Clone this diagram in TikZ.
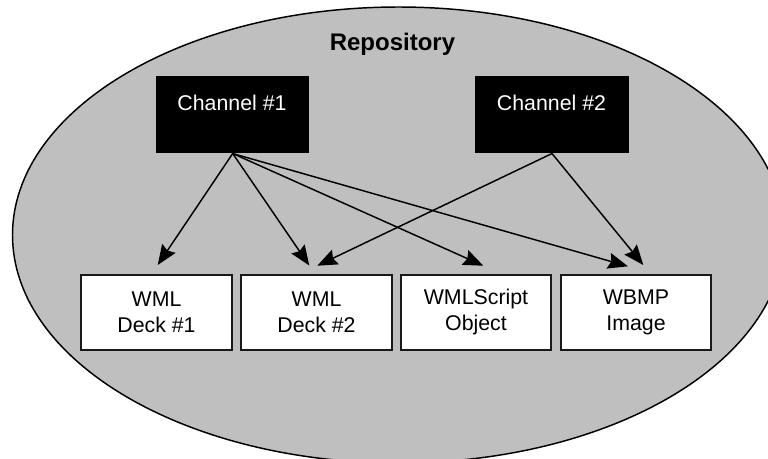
\documentclass[tikz,border=0pt]{standalone}
\usepackage{fontspec}
\setmainfont{Liberation Sans}
\usetikzlibrary{shapes.geometric,arrows.meta}
\tikzset{
  px/.style={x=0.75pt,y=-0.75pt},
  region/.style={ellipse,draw=black,line width=1.1pt,fill=black!25,minimum width=772*0.75pt,minimum height=456*0.75pt,inner sep=0pt},
  lab/.style={font=\fontsize{16}{19.5}\selectfont},
  chan/.style={rectangle,fill=black,minimum width=153.5*0.75pt,minimum height=77.5*0.75pt,inner sep=0pt},
  item/.style={rectangle,draw=black!90,line width=1.6pt,fill=white,lab,align=center,minimum width=150.5*0.75pt,minimum height=75*0.75pt,inner sep=0pt},
  link/.style={-{Stealth[length=15pt,width=12pt,inset=2pt]},line width=1.1pt}
}
\begin{document}
\begin{tikzpicture}[px]
\useasboundingbox (0,0) rectangle (768,458);
\fill[white] (0,0) rectangle (768,458);
\begin{scope}
\clip (0,0) rectangle (768,458);
\node[region] (repo) at (398.5,235) {};
\end{scope}
\node[font=\fontsize{18}{20}\selectfont\bfseries] (title) at (392.5,44) {Repository};
\node[chan] (c1) at (232.7,114.5) {};
\node[lab,text=white] (c1t) at (232,103) {Channel \#1};
\node[chan] (c2) at (552,114.5) {};
\node[lab,text=white] (c2t) at (551.5,103) {Channel \#2};
\node[item] (d1) at (156.5,312.3) {WML\\Deck \#1};
\node[item] (d2) at (316.5,312.3) {WML\\Deck \#2};
\node[item] (o) at (476,312.3) {WMLScript\\Object};
\node[item] (w) at (636,312.3) {WBMP\\Image};
\coordinate (e1) at (157.7,265);
\coordinate (e2) at (309.3,265.5);
\coordinate (e3) at (483.3,265.7);
\coordinate (e4) at (628,266.3);
\coordinate (e5) at (317.3,265.7);
\coordinate (e6) at (643.3,265);
\draw[link] (c1.south) -- (e1);
\draw[link] (c1.south) -- (e2);
\draw[link] (c1.south) -- (e3);
\draw[link] (c1.south) -- (e4);
\draw[link] (c2.south) -- (e5);
\draw[link] (c2.south) -- (e6);
\end{tikzpicture}
\end{document}
